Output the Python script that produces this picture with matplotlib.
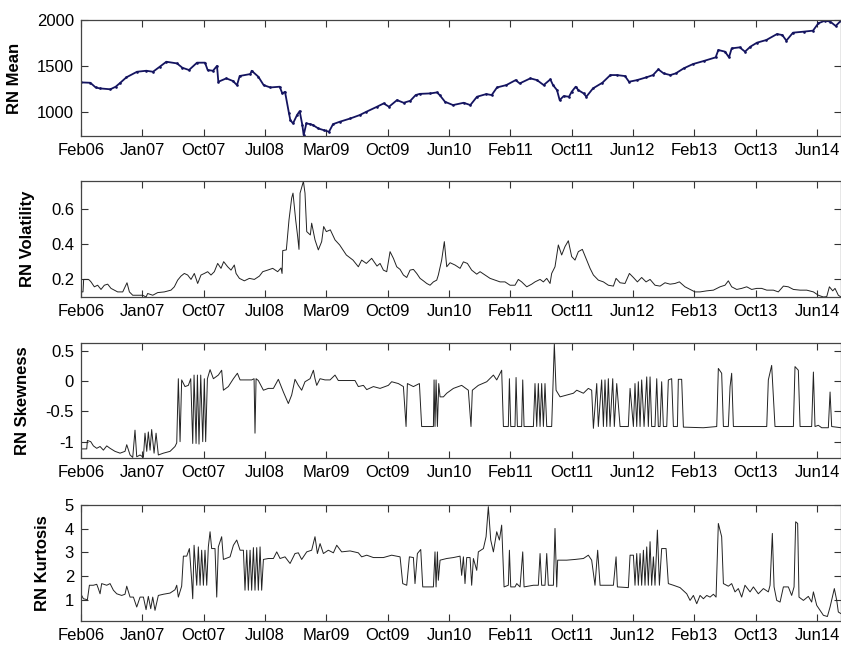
# RN moments panel chart (MATLAB-style 4-panel time series)
import numpy as np
import matplotlib
matplotlib.use("Agg")
import matplotlib.pyplot as plt

plt.rcParams['font.family'] = ['Liberation Sans', 'DejaVu Sans']

# x axis: observation index, one tick label every 46 observations
tick_labels = ['Feb06', 'Jan07', 'Oct07', 'Jul08', 'Mar09', 'Oct09', 'Jun10',
               'Feb11', 'Oct11', 'Jun12', 'Feb13', 'Oct13', 'Jun14']
tick_step = 46
n_obs = 570

mean_pts = [
    (0, 1320), (7, 1316), (11, 1265), (14, 1255), (22, 1245), (26, 1273), (29, 1310), (34, 1375), (42, 1436), (49, 1447),
    (54, 1436), (59, 1490), (64, 1545), (72, 1527), (76, 1480), (81, 1455), (87, 1535), (93, 1535), (95, 1455), (99, 1447),
    (102, 1500), (103, 1327), (109, 1364), (114, 1335), (117, 1290), (119, 1390), (127, 1411), (128, 1447), (133, 1382), (137, 1290),
    (142, 1265), (149, 1273), (151, 1200), (153, 1218), (156, 982), (157, 909), (159, 873), (162, 964), (164, 1007), (166, 855),
    (167, 745), (169, 873), (172, 865), (174, 855), (178, 818), (182, 800), (186, 782), (189, 865), (194, 891), (202, 927),
    (209, 964), (214, 1000), (222, 1055), (227, 1091), (231, 1055), (237, 1127), (242, 1098), (247, 1120), (251, 1182), (254, 1195),
    (262, 1200), (267, 1211), (269, 1182), (273, 1109), (279, 1073), (287, 1098), (292, 1073), (297, 1164), (304, 1193), (308, 1182),
    (312, 1265), (319, 1291), (326, 1345), (329, 1309), (337, 1364), (342, 1345), (347, 1291), (352, 1353), (354, 1291), (357, 1236),
    (359, 1127), (362, 1171), (366, 1164), (368, 1218), (371, 1273), (373, 1236), (377, 1200), (379, 1164), (384, 1255), (391, 1316),
    (397, 1400), (402, 1400), (408, 1389), (411, 1327), (417, 1345), (424, 1375), (429, 1400), (433, 1462), (437, 1418), (442, 1400),
    (446, 1418), (452, 1473), (459, 1520), (467, 1553), (476, 1593), (478, 1673), (483, 1655), (486, 1593), (488, 1691), (494, 1702),
    (498, 1655), (502, 1709), (507, 1753), (514, 1782), (522, 1847), (526, 1836), (529, 1775), (534, 1862), (542, 1873), (549, 1884),
    (553, 1964), (558, 1993), (562, 1982), (566, 1935), (570, 1993),
]

vol_pts = [
    (0, 0.129), (1.5, 0.129), (2, 0.20), (5.5, 0.20), (6.3, 0.196), (7.5, 0.186), (10, 0.158), (12.5, 0.167), (15, 0.143), (17.5, 0.167),
    (20, 0.173), (22.5, 0.149), (25, 0.139), (27.5, 0.129), (31.3, 0.129), (34.5, 0.181), (36.3, 0.129), (38.8, 0.11), (42.5, 0.11), (46.3, 0.11),
    (48.8, 0.10), (50, 0.12), (53.8, 0.11), (57.5, 0.125), (62.5, 0.129), (67.5, 0.139), (70, 0.158), (72.5, 0.196), (75, 0.219), (77.5, 0.234),
    (80, 0.225), (82.5, 0.20), (85, 0.234), (87.5, 0.177), (90, 0.225), (92.5, 0.234), (95, 0.244), (97.5, 0.225), (100, 0.244), (102.5, 0.291),
    (105, 0.263), (107, 0.301), (110, 0.272), (112.5, 0.253), (115, 0.282), (116.3, 0.234), (118.8, 0.206), (122.5, 0.192), (126.3, 0.206), (130, 0.20),
    (133.8, 0.219), (136.3, 0.244), (140, 0.253), (143.8, 0.263), (147.5, 0.244), (150, 0.265), (150.8, 0.234), (151.3, 0.364), (154, 0.368), (156, 0.539),
    (158, 0.663), (159, 0.691), (161, 0.539), (162.5, 0.444), (163.5, 0.371), (164.3, 0.691), (166.8, 0.758), (168, 0.691), (169.3, 0.472), (172, 0.453),
    (173, 0.52), (175.5, 0.425), (178, 0.368), (180.5, 0.415), (182, 0.501), (184, 0.472), (187, 0.482), (190.5, 0.425), (194, 0.396), (199, 0.339),
    (204, 0.31), (208, 0.272), (210.5, 0.31), (214, 0.291), (218, 0.32), (222, 0.276), (224.3, 0.291), (226.8, 0.253), (229.3, 0.244), (231.8, 0.358),
    (234.3, 0.32), (236.8, 0.272), (239.3, 0.257), (241.8, 0.225), (244.3, 0.211), (246.8, 0.253), (249.3, 0.257), (251.8, 0.234), (254.3, 0.206), (256.8, 0.192),
    (259.3, 0.177), (261.8, 0.167), (264.3, 0.186), (266.8, 0.196), (268, 0.225), (270.5, 0.31), (272.5, 0.415), (274.3, 0.272), (276.8, 0.295), (280.5, 0.282),
    (284.3, 0.263), (286.8, 0.30), (289.8, 0.291), (293, 0.253), (296.8, 0.23), (299.3, 0.244), (303, 0.225), (306.8, 0.206), (310.5, 0.196), (314.3, 0.186),
    (318, 0.186), (321.8, 0.167), (325.5, 0.167), (328, 0.20), (330.5, 0.186), (334.3, 0.158), (338, 0.173), (340.5, 0.186), (344.3, 0.20), (346.8, 0.186),
    (349.3, 0.206), (351.8, 0.177), (353, 0.234), (355.5, 0.272), (358, 0.396), (360.5, 0.339), (363, 0.387), (365.5, 0.42), (368, 0.33), (370.5, 0.31),
    (373, 0.358), (376, 0.371), (381.8, 0.263), (384.3, 0.225), (388, 0.196), (391.8, 0.186), (395.5, 0.167), (399.3, 0.162), (401.3, 0.206), (404.3, 0.181),
    (408, 0.177), (411.3, 0.234), (414.3, 0.211), (417.3, 0.186), (420.5, 0.211), (423.8, 0.186), (426.8, 0.20), (430.5, 0.167), (434.3, 0.162), (438, 0.181),
    (441.8, 0.173), (445.5, 0.177), (448.8, 0.186), (453, 0.158), (456.8, 0.143), (460.5, 0.129), (464.3, 0.129), (469.3, 0.135), (474.3, 0.139), (479.3, 0.158),
    (483, 0.167), (485.5, 0.192), (488, 0.158), (491.8, 0.143), (495.5, 0.149), (499.3, 0.158), (503, 0.143), (506.8, 0.149), (510.5, 0.149), (514.3, 0.139),
    (519.3, 0.139), (523, 0.129), (526.8, 0.162), (530.5, 0.158), (534.3, 0.143), (539.3, 0.139), (544.3, 0.139), (549.3, 0.129), (553, 0.110), (556.8, 0.10),
    (559.3, 0.102), (561.3, 0.158), (563.8, 0.135), (565.5, 0.149), (568, 0.11), (570, 0.10),
]

skew_pts = [
    (0.5, -1.12), (4.3, -1.12), (4.8, -0.98), (7.3, -1.0), (9.3, -1.07), (11.8, -1.11), (14.3, -1.08), (16.8, -1.14), (19.3, -1.07), (21.8, -1.11),
    (25.5, -1.16), (29.3, -1.19), (33, -1.16), (34.3, -1.05), (36.8, -1.22), (38.8, -1.26), (40.5, -0.81), (41.8, -1.25), (44.3, -1.22), (46.8, -1.26),
    (48, -0.86), (49.3, -1.16), (50.5, -0.84), (51.8, -1.14), (53, -0.80), (54.8, -1.19), (56.3, -0.86), (58, -1.22), (61.8, -1.19), (66.8, -1.16),
    (70.5, -1.08), (71.8, -1.02), (73, 0.04), (74.3, -1.0), (75.5, 0.02), (78, -0.09), (80.5, -0.07), (82.3, 0.04), (83.8, -1.03), (84.8, 0.10),
    (86.3, -1.03), (87.3, 0.10), (88.5, -1.04), (89.8, 0.10), (91.3, -1.0), (92.5, 0.04), (93.5, -1.0), (94.8, 0.04), (96.8, 0.19), (99.3, 0.04),
    (103, 0.10), (105.5, 0.18), (106.8, -0.15), (110.5, -0.09), (114.3, 0.04), (117.3, 0.13), (119.3, 0.02), (124.3, 0.02), (128, 0.02), (129.8, 0.04),
    (130.5, -0.86), (131.3, 0.04), (133, 0.01), (136.8, -0.15), (140.5, -0.12), (144.3, -0.12), (148, 0.03), (151.8, -0.18), (155.5, -0.37), (158, -0.23),
    (160.5, 0.03), (163, -0.07), (165.5, -0.15), (168, -0.01), (171.8, 0.04), (174.3, 0.18), (175.5, 0.04), (176.8, -0.07), (179.3, 0.04), (183, 0.02),
    (186.8, 0.02), (190.5, 0.10), (193, 0.01), (199.3, 0.01), (205.5, 0.01), (208, -0.09), (211.8, -0.07), (214.3, -0.14), (219.3, -0.09), (224.3, -0.12),
    (230.5, -0.07), (233, -0.01), (238, -0.04), (241.8, -0.09), (243.8, -0.75), (244.8, -0.04), (249.3, -0.09), (253.8, -0.04), (255.5, -0.75), (264.3, -0.75),
    (264.8, 0.02), (265.5, -0.75), (266.3, 0.02), (267.3, -0.75), (268.3, -0.04), (269.3, -0.26), (271.8, -0.26), (274.3, -0.20), (279.3, -0.12), (285.5, -0.07),
    (290.5, -0.15), (292.5, -0.75), (293.5, -0.15), (298, -0.07), (304.3, -0.01), (309.3, 0.10), (311.8, 0.02), (315.5, 0.18), (316.8, -0.75), (320.5, -0.75),
    (321.3, 0.04), (322.3, -0.75), (325.5, -0.75), (326.3, 0.06), (327.3, -0.75), (330.5, -0.75), (331.3, 0.02), (332.3, -0.75), (339.3, -0.75), (340.5, -0.04),
    (341.8, -0.75), (343, -0.04), (344.3, -0.75), (345.5, -0.04), (346.8, -0.75), (348, -0.04), (349.3, -0.75), (353, -0.75), (355, 0.62), (356.3, -0.15),
    (359.3, -0.26), (364.3, -0.23), (369.3, -0.20), (371.8, -0.15), (376.8, -0.20), (380.5, -0.12), (383, -0.15), (384.3, -0.78), (386.8, -0.04), (388, -0.75),
    (390.5, 0.02), (391.8, -0.75), (393, 0.02), (394.3, -0.75), (395.5, 0.04), (396.8, -0.75), (398.8, 0.04), (400, -0.75), (401.8, -0.04), (404.3, -0.75),
    (410.5, -0.75), (411.8, -0.12), (414.3, -0.75), (415.5, -0.04), (416.8, -0.75), (418, -0.01), (419.3, -0.75), (420.5, 0.02), (422.3, -0.75), (424.3, 0.07),
    (425.5, -0.75), (426.8, 0.07), (428, -0.75), (430.5, -0.75), (431.8, 0.04), (433, -0.75), (434.3, -0.75), (435.5, -0.01), (436.8, -0.75), (439.3, -0.75),
    (440.5, 0.02), (443, 0.04), (444.3, -0.75), (447.3, -0.75), (448, 0.03), (450.5, 0.03), (451.8, -0.76), (466.8, -0.77), (476.8, -0.75), (478, 0.21),
    (480.5, 0.13), (481.8, -0.75), (485.5, -0.75), (486.8, -0.09), (488, 0.13), (489.3, -0.75), (514.3, -0.75), (515.5, 0.02), (518, 0.26), (520.5, -0.75),
    (534.3, -0.75), (535.5, 0.24), (538, 0.18), (539.3, -0.75), (548, -0.75), (549.3, 0.15), (550.5, -0.75), (553, -0.73), (555.5, -0.77), (560.5, -0.77),
    (561.8, -0.18), (563, -0.75), (570, -0.77),
]

kurt_pts = [
    (0.5, 1.18), (1.8, 1.04), (4.8, 1.0), (6.3, 1.61), (9.3, 1.61), (11.8, 1.65), (13, 1.47), (14.3, 1.25), (15.5, 1.68), (19.3, 1.61),
    (21.8, 1.68), (24.3, 1.40), (26.8, 1.25), (30.5, 1.18), (33, 1.23), (34.3, 1.57), (36.8, 1.11), (39.3, 1.11), (41.8, 0.69), (44.3, 1.11),
    (46.8, 1.11), (48.8, 0.58), (50.5, 1.14), (52.3, 0.62), (53.8, 1.11), (55.5, 0.55), (58, 1.18), (61.8, 1.23), (66.8, 1.28), (70.5, 1.42),
    (71.8, 1.61), (73, 1.11), (75.5, 1.57), (76.8, 2.84), (79.3, 2.84), (81.3, 3.16), (83, 1.82), (83.8, 1.04), (84.8, 3.30), (86.8, 1.61),
    (88, 3.23), (89.3, 1.61), (90.5, 3.09), (91.8, 1.61), (93, 3.09), (94.3, 1.61), (95.5, 3.23), (96.8, 3.87), (98, 3.16), (100.5, 3.16),
    (101.8, 1.11), (103, 3.23), (105.5, 3.66), (106.8, 2.70), (111.8, 2.81), (114.3, 3.30), (116.8, 3.52), (119.3, 3.09), (121.8, 3.09), (123, 1.40),
    (124.3, 3.09), (125.5, 1.40), (126.8, 3.09), (128, 1.40), (129.3, 3.20), (130.5, 1.40), (131.8, 3.20), (133, 1.40), (134.3, 3.23), (135.5, 1.40),
    (136.8, 2.70), (140.5, 2.74), (144.3, 2.74), (146.8, 3.02), (149.3, 2.74), (153, 2.81), (156.8, 2.53), (160.5, 2.95), (163, 2.98), (165.5, 2.70),
    (169.3, 3.02), (173, 3.09), (175.5, 3.66), (177.3, 2.95), (179.3, 3.37), (181.8, 2.95), (185.5, 3.09), (189.3, 2.98), (191.8, 3.30), (195.5, 3.02),
    (201.8, 3.06), (208, 2.98), (210.5, 2.81), (214.3, 2.88), (219.3, 2.78), (226.8, 2.78), (233, 2.88), (239.3, 2.81), (241.3, 1.68), (244.3, 1.61),
    (246.3, 2.81), (249.3, 2.78), (250.5, 1.68), (252.3, 2.95), (254.8, 3.12), (256.3, 1.54), (264.3, 1.54), (265.5, 3.02), (266.3, 1.54), (267.3, 3.02),
    (268, 1.82), (269.3, 2.67), (274.3, 2.74), (279.3, 2.78), (284.3, 2.84), (285.5, 2.03), (286.8, 2.81), (288, 1.68), (289.3, 2.78), (291.8, 2.78),
    (293, 1.61), (294.3, 2.74), (296.8, 2.24), (298, 3.02), (301.8, 3.16), (303.8, 3.66), (305.5, 4.93), (307.3, 3.52), (309.3, 3.02), (311.8, 3.87),
    (313.8, 3.52), (315.5, 4.15), (317.3, 1.54), (320.5, 1.61), (321.3, 3.09), (322.3, 1.54), (325.5, 1.54), (326.8, 1.68), (329.3, 1.54), (331.3, 3.02),
    (332.3, 1.54), (339.3, 1.61), (343, 1.61), (344.3, 2.95), (345.5, 1.61), (348, 1.61), (349.3, 2.95), (350.5, 1.61), (354.3, 1.61), (355.5, 4.01),
    (356.8, 1.54), (357.5, 2.67), (364.3, 2.67), (370.5, 2.70), (376.8, 2.74), (380.5, 2.88), (383, 2.67), (385.5, 1.61), (387.5, 3.09), (389.3, 1.61),
    (399.3, 1.61), (401.3, 2.81), (402.3, 1.54), (410.5, 1.51), (411.8, 2.88), (414.3, 2.88), (415.5, 1.61), (416.8, 2.95), (418, 1.61), (419.3, 2.95),
    (420.5, 1.61), (421.8, 3.09), (423, 1.61), (424.3, 3.23), (425.5, 1.61), (426.8, 3.45), (428, 1.61), (429.3, 2.81), (430.5, 1.61), (432.3, 3.94),
    (433.8, 1.61), (435.5, 3.16), (438.8, 3.16), (440.5, 1.68), (444.3, 1.61), (449.3, 1.51), (454.3, 1.25), (456.8, 0.97), (459.3, 1.18), (461.8, 0.83),
    (464.3, 1.18), (466.8, 1.04), (469.3, 1.18), (471.8, 1.11), (474.3, 1.23), (476.3, 1.11), (478, 4.22), (480.5, 3.66), (481.8, 1.68), (485.5, 1.57),
    (488, 1.68), (490.5, 1.33), (493, 1.47), (495.5, 1.11), (498, 1.61), (501.8, 1.33), (504.3, 1.54), (508, 1.25), (511.8, 1.47), (515.5, 1.33),
    (516.8, 1.61), (518.5, 3.80), (519.8, 1.54), (521.8, 0.97), (524.3, 0.90), (526.8, 1.54), (530.5, 1.54), (533, 1.18), (534.8, 1.54), (536, 4.29),
    (537.5, 4.22), (538.5, 1.11), (541.8, 0.97), (545.5, 1.14), (548, 0.90), (549.3, 1.33), (551.8, 0.76), (554.3, 0.55), (556.8, 0.34), (559.8, 0.29),
    (561.8, 0.69), (565, 1.47), (566.8, 0.97), (568, 0.48), (570, 0.41),
]

panels = [
    ('RN Mean', mean_pts, (736, 2000), [1000, 1500, 2000], ['1000', '1500', '2000'], -0.078),
    ('RN Volatility', vol_pts, (0.10, 0.76), [0.2, 0.4, 0.6], ['0.2', '0.4', '0.6'], -0.060),
    ('RN Skewness', skew_pts, (-1.27, 0.63), [-1, -0.5, 0, 0.5], ['-1', '-0.5', '0', '0.5'], -0.067),
    ('RN Kurtosis', kurt_pts, (0.1, 5.0), [1, 2, 3, 4, 5], ['1', '2', '3', '4', '5'], -0.041),
]

# axes boxes in figure pixels: (top, bottom)
W, H = 841, 648
boxes = [(20, 136), (181, 297), (343, 458), (505, 621)]

fig = plt.figure(figsize=(W / 100, H / 100), dpi=100)

for i, (name, pts, ylim, yt, ytl, lab_x) in enumerate(panels):
    top, bot = boxes[i]
    ax = fig.add_axes([81 / W, 1 - bot / H, (W - 81) / W, (bot - top) / H])
    x, y = np.array(pts).T
    if i == 0:
        # mean is drawn as a navy line with small dots, like the original
        ax.plot(x, y, color='#141460', lw=1.3, marker='.', ms=1.8)
    else:
        ax.plot(x, y, color='#222222', lw=0.7)
    ax.set_xlim(0, n_obs)
    ax.set_ylim(*ylim)
    ax.set_xticks(np.arange(len(tick_labels)) * tick_step)
    ax.set_xticklabels(tick_labels)
    ax.set_yticks(yt)
    ax.set_yticklabels(ytl)
    ax.tick_params(direction='in', top=True, right=True, length=5, width=0.8,
                   labelsize=12, pad=5, colors='#333333', labelcolor='black')
    for s in ax.spines.values():
        s.set_color('#444444')
        s.set_linewidth(0.9)
    ax.set_ylabel(name, fontsize=12, fontweight='bold')
    ax.yaxis.set_label_coords(lab_x, 0.5)

fig.savefig('out.png', dpi=100)
